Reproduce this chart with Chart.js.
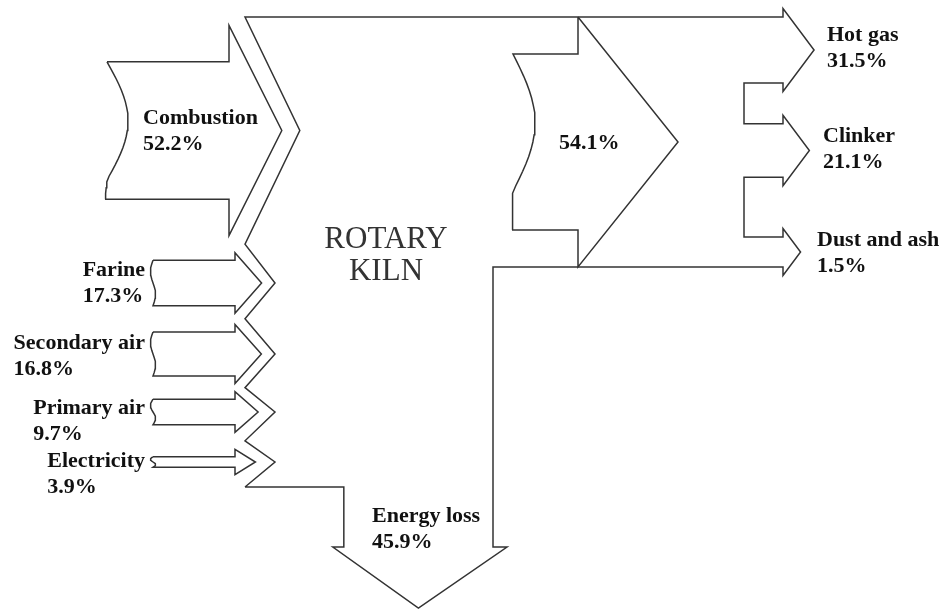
<!DOCTYPE html>
<html>
<head>
<meta charset="utf-8">
<title>Rotary kiln energy balance</title>
<script src="https://cdn.jsdelivr.net/npm/chart.js@4.4.1/dist/chart.umd.min.js"></script>
<style>
  html, body { margin: 0; padding: 0; background: #fff; }
  #wrap { width: 943px; height: 612px; position: relative; }
</style>
</head>
<body>
<div id="wrap"><canvas id="kilnChart"></canvas></div>
<script>
/* ---- data (shares of total energy, %) ---- */
const inputNames = ["Combustion", "Farine", "Secondary air", "Primary air", "Electricity"];
const inputShares = [52.2, 17.3, 16.8, 9.7, 3.9];
const outputNames = ["Hot gas", "Clinker", "Dust and ash"];
const outputShares = [31.5, 21.1, 1.5];
const usefulShare = 54.1;
const lossName = "Energy loss";
const lossShare = 45.9;
const kilnTitle = ["ROTARY", "KILN"];

/* ---- layout (diagram units = px of the 943x612 picture) ---- */
const W = 943, H = 612;
const PX_IN = 2.63;                    // px per % for the feeding arrows
const PX_KILN = 3.25;                  // px per % for useful / loss streams
const outThick = v => 28 + 1.2 * v;    // exit arrows are drawn schematic
const inputCy = [130.5, 283, 354, 412, 462];
const inputFlare = [36.5, 7.5, 7.5, 7.5, 7.5];
const inputLeft = [107, 153, 153, 153, 153];
const inputHeadX = [229, 235, 235, 235, 235];
const ZIG_IN = 245, ZIG_OUT = 275, KILN_BOTTOM = 487;
const OUT_CY = 142, OUT_LEFT = 513, OUT_HEAD_X = 578, OUT_FLARE = 37, OUT_TIP = 100;
const KILN_RIGHT = 493;
const LOSS_HEAD_Y = 547, LOSS_TIP_Y = 608, LOSS_FLARE_L = 11, LOSS_FLARE_R = 14;
const EXIT_X = 783, NOTCH_X = 744, EXIT_FLARE = 8.5, CLINKER_CY = 150.5;

const LINE = "#333";
const BOLD = "bold 22px 'Liberation Serif', 'Times New Roman', serif";
const TITLE = "31px 'Liberation Serif', 'Times New Roman', serif";

/* ---- geometry helpers ---- */
// wavy cut edge, listed top -> bottom
function wave(x0, yTop, yBot, amp, frac, tail){
  const pts = [];
  const n = 24;
  for(let i = 0; i <= n; i++){
    const t = i / n;
    const y = yTop + t * (yBot - yTop);
    const x = t < frac
      ? x0 + amp * Math.sin(Math.PI * t / frac)
      : x0 - tail * (t - frac) / (1 - frac);
    pts.push({x, y});
  }
  return pts;
}
function brace(x0, yTop, yBot){
  const pts = [];
  const n = 12;
  for(let i = 0; i <= n; i++){
    const t = i / n;
    pts.push({x: x0 - 2.5 * Math.sin(2 * Math.PI * t), y: yTop + t * (yBot - yTop)});
  }
  return pts;
}

const inArrows = inputShares.map((v, i) => {
  const bh = v * PX_IN / 2;
  const hh = bh + inputFlare[i];
  return {cy: inputCy[i], bh, hh, left: inputLeft[i], headX: inputHeadX[i],
          tipX: inputHeadX[i] + 16 + 0.35 * hh};
});

function inputArrow(a, i){
  const edge = i === 0
    ? wave(a.left, a.cy - a.bh, a.cy + a.bh, 21, 0.86, 2)
    : brace(a.left, a.cy - a.bh, a.cy + a.bh);
  return [
    {x: a.left, y: a.cy - a.bh},
    {x: a.headX, y: a.cy - a.bh},
    {x: a.headX, y: a.cy - a.hh},
    {x: a.tipX, y: a.cy},
    {x: a.headX, y: a.cy + a.hh},
    {x: a.headX, y: a.cy + a.bh},
    ...edge.reverse()
  ];
}

const usefulHalf = usefulShare * PX_KILN / 2;
const outHalf = usefulHalf + OUT_FLARE;
const kilnTop = OUT_CY - outHalf;
const bandBottom = OUT_CY + outHalf;

function usefulArrow(){
  const top = OUT_CY - usefulHalf, bot = OUT_CY + usefulHalf;
  return [
    {x: OUT_HEAD_X, y: kilnTop},
    {x: OUT_HEAD_X + OUT_TIP, y: OUT_CY},
    {x: OUT_HEAD_X, y: bandBottom},
    {x: OUT_HEAD_X, y: bot},
    ...wave(OUT_LEFT, top, bot, 22, 0.78, 1).reverse(),
    {x: OUT_HEAD_X, y: top},
    {x: OUT_HEAD_X, y: kilnTop}
  ];
}

function kilnOutline(){
  const lossW = lossShare * PX_KILN;
  const lossL = KILN_RIGHT - lossW;
  const lossCx = (lossL + KILN_RIGHT) / 2;
  const pts = [
    {x: ZIG_IN, y: KILN_BOTTOM},
    {x: lossL, y: KILN_BOTTOM},
    {x: lossL, y: LOSS_HEAD_Y},
    {x: lossL - LOSS_FLARE_L, y: LOSS_HEAD_Y},
    {x: lossCx, y: LOSS_TIP_Y},
    {x: KILN_RIGHT + LOSS_FLARE_R, y: LOSS_HEAD_Y},
    {x: KILN_RIGHT, y: LOSS_HEAD_Y},
    {x: KILN_RIGHT, y: bandBottom}
  ];
  // exit arrows, stacked inside the useful band
  const th = outputShares.map(outThick);
  const spans = [
    [kilnTop, kilnTop + th[0]],
    [CLINKER_CY - th[1] / 2, CLINKER_CY + th[1] / 2],
    [bandBottom - th[2], bandBottom]
  ];
  for(let i = spans.length - 1; i >= 0; i--){
    const [t, b] = spans[i];
    const cy = (t + b) / 2;
    const hh = (b - t) / 2 + EXIT_FLARE;
    pts.push({x: EXIT_X, y: b}, {x: EXIT_X, y: b + EXIT_FLARE},
             {x: EXIT_X + 0.75 * hh, y: cy},
             {x: EXIT_X, y: t - EXIT_FLARE}, {x: EXIT_X, y: t});
    if(i > 0){
      pts.push({x: NOTCH_X, y: t}, {x: NOTCH_X, y: spans[i - 1][1]}, {x: EXIT_X, y: spans[i - 1][1]});
    }
  }
  // top edge and the zig-zag fed by the inputs
  pts.push({x: ZIG_IN, y: kilnTop});
  pts.push({x: inArrows[0].tipX + 18, y: inArrows[0].cy});
  for(let i = 1; i < inArrows.length; i++){
    const p = inArrows[i - 1], a = inArrows[i];
    pts.push({x: ZIG_IN, y: ((p.cy + p.hh) + (a.cy - a.hh)) / 2});
    pts.push({x: ZIG_OUT, y: a.cy});
  }
  pts.push({x: ZIG_IN, y: KILN_BOTTOM});
  return {pts, lossL};
}

const kiln = kilnOutline();

function outlineDataset(points){
  return {
    data: points,
    showLine: true,
    borderColor: LINE,
    borderWidth: 1.5,
    pointRadius: 0,
    fill: false,
    tension: 0,
    borderJoinStyle: "miter",
    clip: false
  };
}

const pct = v => v.toFixed(1) + "%";

/* ---- text labels ---- */
const labelPlugin = {
  id: "kilnLabels",
  afterDatasetsDraw(chart){
    const {ctx, scales: {x, y}} = chart;
    ctx.save();
    ctx.fillStyle = "#111";
    ctx.textBaseline = "middle";
    ctx.font = BOLD;

    const two = (l1, l2, px, py) => {
      ctx.textAlign = "left";
      ctx.fillText(l1, x.getPixelForValue(px), y.getPixelForValue(py));
      ctx.fillText(l2, x.getPixelForValue(px), y.getPixelForValue(py + 26));
    };

    // inputs
    two(inputNames[0], pct(inputShares[0]), 143, 118);
    const inY = [null, 270, 343, 408, 461];
    for(let i = 1; i < inputNames.length; i++){
      const w = ctx.measureText(inputNames[i]).width;
      two(inputNames[i], pct(inputShares[i]), 145 - w, inY[i]);
    }

    // outputs
    const outPos = [[827, 35], [823, 136], [817, 240]];
    outputNames.forEach((n, i) => two(n, pct(outputShares[i]), outPos[i][0], outPos[i][1]));

    ctx.textAlign = "left";
    ctx.fillText(pct(usefulShare), x.getPixelForValue(559), y.getPixelForValue(143));
    two(lossName, pct(lossShare), 372, 516);

    // kiln title
    ctx.font = TITLE;
    ctx.fillStyle = "#333";
    ctx.textAlign = "center";
    ctx.fillText(kilnTitle[0], x.getPixelForValue(386), y.getPixelForValue(240));
    ctx.fillText(kilnTitle[1], x.getPixelForValue(386), y.getPixelForValue(272));
    ctx.restore();
  }
};

new Chart(document.getElementById("kilnChart"), {
  type: "scatter",
  data: {
    datasets: [
      outlineDataset(kiln.pts),
      outlineDataset(usefulArrow()),
      ...inArrows.map((a, i) => outlineDataset(inputArrow(a, i)))
    ]
  },
  options: {
    responsive: true,
    maintainAspectRatio: false,
    animation: false,
    events: [],
    layout: { padding: 0 },
    plugins: { legend: { display: false }, tooltip: { enabled: false } },
    scales: {
      x: { type: "linear", min: 0, max: W, display: false },
      y: { type: "linear", min: 0, max: H, reverse: true, display: false }
    }
  },
  plugins: [labelPlugin]
});
</script>
</body>
</html>
